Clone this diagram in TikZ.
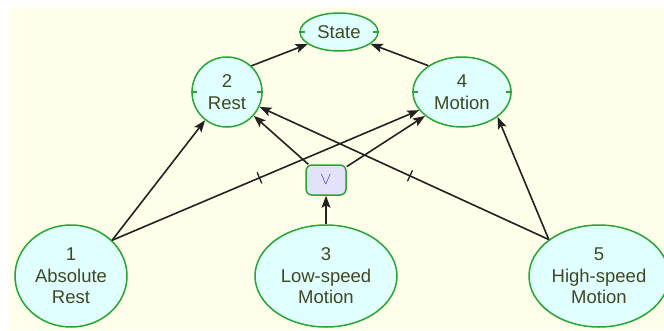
\documentclass[tikz,border=0pt]{standalone}
\usepackage{fontspec}
\setmainfont{Liberation Sans}
\usetikzlibrary{shapes.geometric,arrows.meta,decorations.markings}
\definecolor{bgyellow}{HTML}{FFFFEA}
\definecolor{nodegreen}{RGB}{40,165,50}
\definecolor{nodefill}{HTML}{E0FFFF}
\definecolor{boxfill}{HTML}{E2E2FA}
\definecolor{txt}{HTML}{404820}
\definecolor{orcol}{HTML}{5A3FC0}
\definecolor{edgecol}{HTML}{222222}
\tikzset{
  x=1pt, y=-1pt,
  concept/.style={ellipse, draw=nodegreen, line width=1.5pt, fill=nodefill, inner sep=0pt,
    align=center, text=txt, font=\fontsize{18.5}{21.5}\selectfont},
  orbox/.style={rectangle, rounded corners=6pt, draw=nodegreen, line width=1.5pt, fill=boxfill,
    minimum width=40pt, minimum height=30pt, inner sep=0pt, text=orcol,
    font=\fontsize{18}{20}\selectfont},
  link/.style={draw=edgecol, line width=1.6pt, -{Stealth[length=12pt,width=9pt,inset=2.5pt]}},
  negtick/.style={postaction={decorate, decoration={markings,
    mark=at position #1 with {\draw[arrows=-, edgecol, line width=1.3pt] (0,-6pt) -- (0,6pt);}}}},
  sidetick/.style={draw=nodegreen, line width=1.3pt},
}
\begin{document}
\begin{tikzpicture}
\useasboundingbox (0,0) rectangle (664,330);
\fill[bgyellow] (9,7) rectangle (664,330);

\node[concept, minimum width=78pt, minimum height=38pt] (state) at (339,32) {State};
\node[concept, minimum width=70pt, minimum height=70pt] (rest) at (227,92) {2\\Rest};
\node[concept, minimum width=98pt, minimum height=70pt] (motion) at (462,92) {4\\Motion};
\node[concept, minimum width=112pt, minimum height=102pt] (n1) at (71,276) {1\\Absolute\\Rest};
\node[concept, minimum width=142pt, minimum height=102pt] (n3) at (326,276) {3\\Low-speed\\Motion};
\node[concept, minimum width=140pt, minimum height=102pt] (n5) at (599,276) {5\\High-speed\\Motion};
\node[orbox] (v) at (326,180) {$\vee$};

\foreach \n in {state,rest,motion}{
  \draw[sidetick] (\n.west) -- ++(6,0);
  \draw[sidetick] (\n.east) -- ++(-6,0);
}

\draw[link] (rest.47) -- (state);
\draw[link] (motion.142) -- (state);
\draw[link] (n1.41) -- (rest);
\draw[link, negtick=0.48] (n1.41) -- (motion);
\draw[link] (v) -- (rest);
\draw[link] (v) -- (motion);
\draw[link, negtick=0.48] (n5.144) -- (rest);
\draw[link] (n5.144) -- (motion.-35);
\draw[link] (n3) -- (v);
\end{tikzpicture}
\end{document}
